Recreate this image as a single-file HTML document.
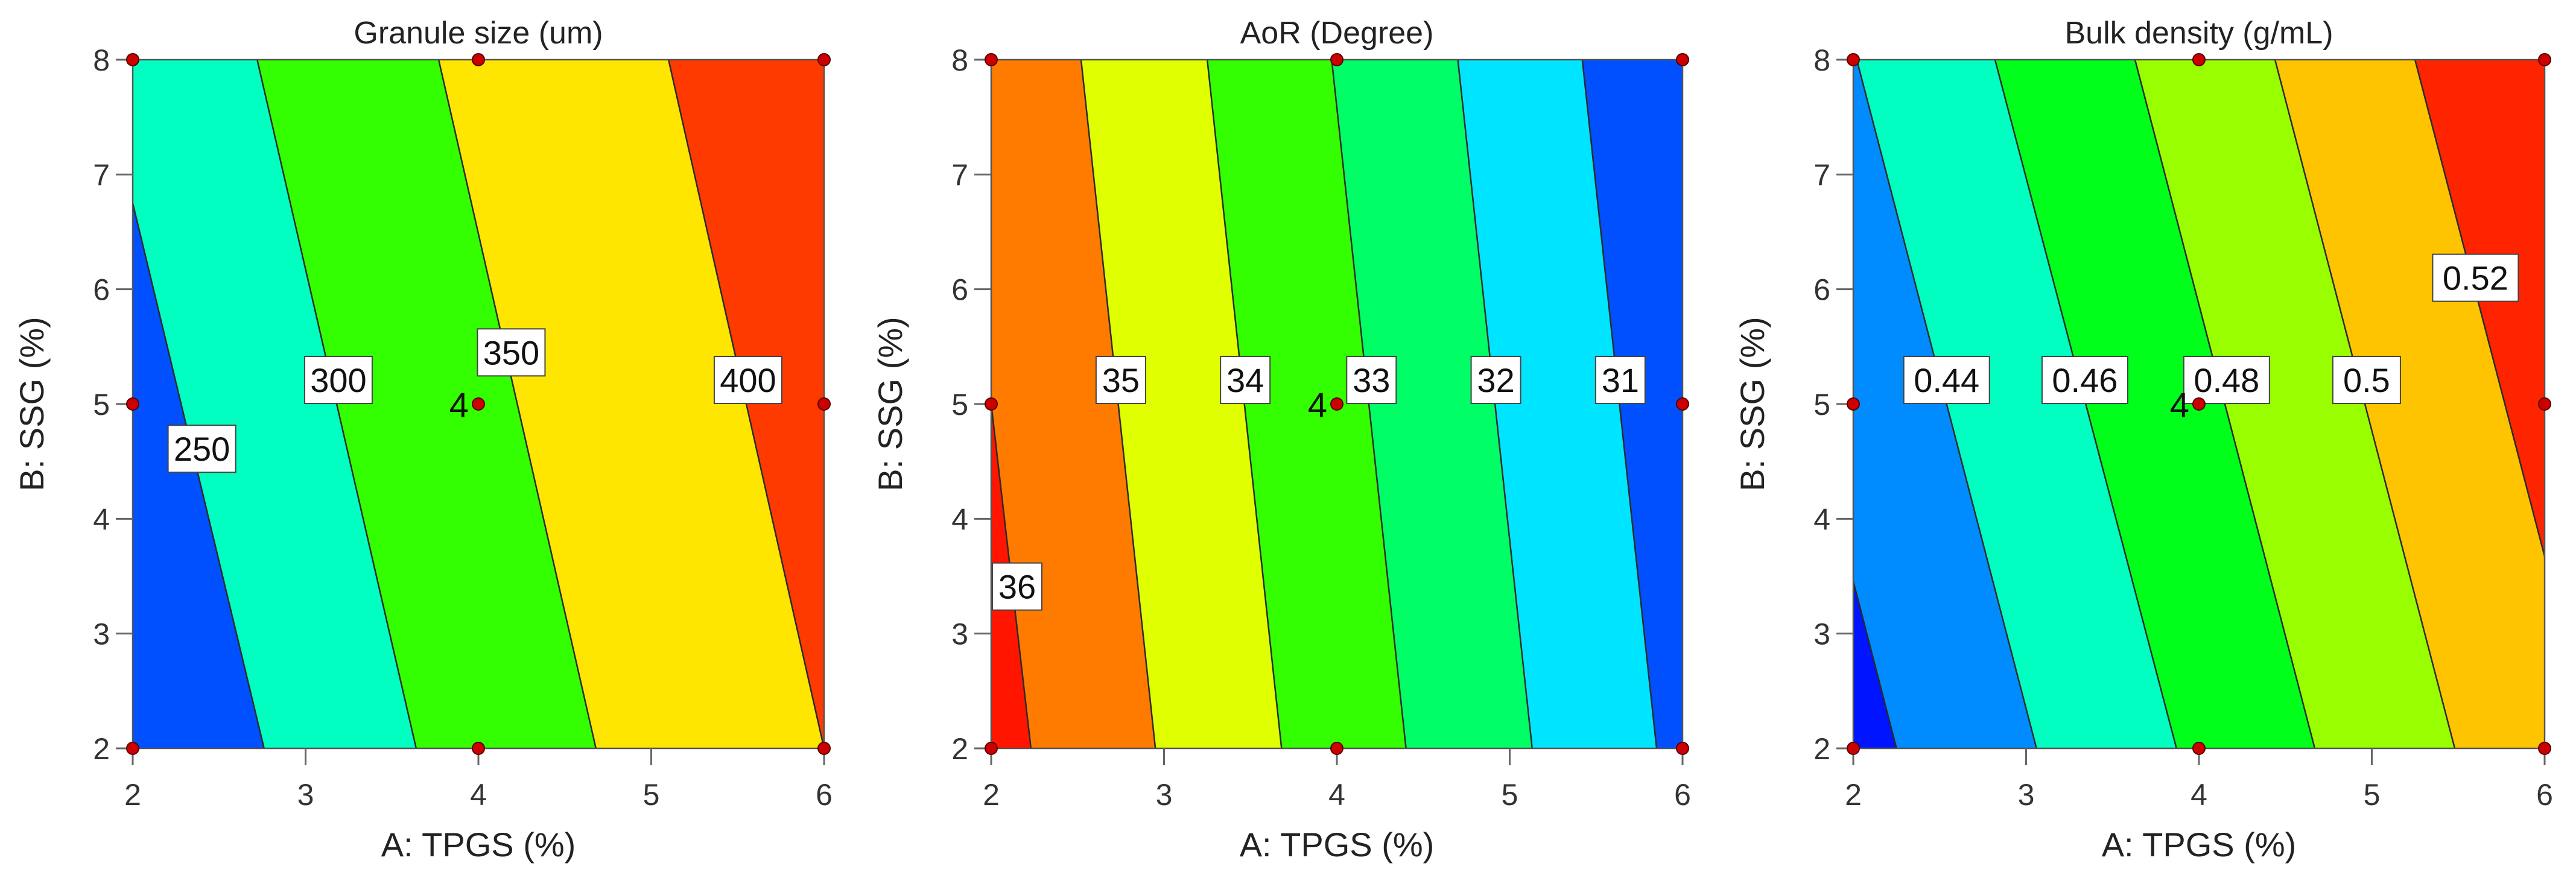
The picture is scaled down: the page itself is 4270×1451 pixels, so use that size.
<!DOCTYPE html>
<html><head><meta charset="utf-8"><style>
html,body{margin:0;padding:0;background:#fff;}
svg{display:block;font-family:"Liberation Sans","DejaVu Sans",sans-serif;}
</style></head><body>
<svg id="fig" xmlns="http://www.w3.org/2000/svg" width="4270" height="1451" viewBox="0 0 4270 1451"></svg>
<script>
// ---- data ----
const xTicks = [2, 3, 4, 5, 6];
const yTicks = [2, 3, 4, 5, 6, 7, 8];
const designX = [2, 2, 2, 4, 4, 4, 6, 6, 6];
const designY = [2, 5, 8, 2, 5, 8, 2, 5, 8];
const centerRuns = ["4", "4", "4"];

const p1Title = "Granule size (um)";
const p1Levels = ["250", "300", "350", "400"];
const p1TopX = [1.80, 2.72, 3.77, 5.10];
const p1BottomX = [2.76, 3.64, 4.68, 6.00];
const p1Colors = ["#0050ff", "#00ffc0", "#33ff00", "#ffe600", "#ff3a00"];
const p1LabelX = [2.40, 3.19, 4.19, 5.56];
const p1LabelY = [4.61, 5.21, 5.45, 5.21];

const p2Title = "AoR (Degree)";
const p2Levels = ["36", "35", "34", "33", "32", "31"];
const p2TopX = [1.77, 2.52, 3.25, 3.97, 4.70, 5.42];
const p2BottomX = [2.23, 2.95, 3.68, 4.40, 5.13, 5.85];
const p2Colors = ["#ff1500", "#ff7b00", "#e0ff00", "#33ff00", "#00ff66", "#00e5ff", "#0050ff"];
const p2LabelX = [2.15, 2.75, 3.47, 4.20, 4.92, 5.64];
const p2LabelY = [3.41, 5.21, 5.21, 5.21, 5.21, 5.21];

const p3Title = "Bulk density (g/mL)";
const p3Levels = ["0.42", "0.44", "0.46", "0.48", "0.5", "0.52"];
const p3TopX = [1.22, 2.02, 2.82, 3.63, 4.44, 5.25];
const p3BottomX = [2.25, 3.06, 3.87, 4.67, 5.48, 6.29];
const p3Colors = ["#0014ff", "#008cff", "#00ffc0", "#00ff1a", "#99ff00", "#ffc400", "#ff2400"];
const p3LabelX = [null, 2.54, 3.34, 4.16, 4.97, 5.60];
const p3LabelY = [null, 5.21, 5.21, 5.21, 5.21, 6.10];

const panelLefts = [220, 1643, 3072];
const PW = 1146, TOP = 99, BOT = 1241;
const NS = "http://www.w3.org/2000/svg";
const svg = document.getElementById('fig');

function mk(tag, attrs, parent) {
  const e = document.createElementNS(NS, tag);
  for (const k in attrs) e.setAttribute(k, attrs[k]);
  (parent || svg).appendChild(e);
  return e;
}

function drawPanel(idx, title, levels, topX, bottomX, colors, labX, labY) {
  const L = panelLefts[idx], R = L + PW;
  const sx = v => L + (v - 2) / 4 * PW;
  const sy = v => BOT - (v - 2) / 6 * (BOT - TOP);
  const g = mk('g', {});
  
  
  const clip = mk('clipPath', {id: 'clip' + idx}, g);
  mk('rect', {x: L, y: TOP, width: PW, height: BOT - TOP}, clip);
  const bands = mk('g', {'clip-path': 'url(#clip' + idx + ')'}, g);
  // bands
  const n = levels.length;
  for (let i = 0; i <= n; i++) {
    const lt = i === 0 ? -10 : sx(topX[i - 1]);
    const lb = i === 0 ? -10 : sx(bottomX[i - 1]);
    const rt = i === n ? 5000 : sx(topX[i]);
    const rb = i === n ? 5000 : sx(bottomX[i]);
    const pts = `${lt},${sy(8)} ${rt},${sy(8)} ${rb},${sy(2)} ${lb},${sy(2)}`;
    const p = mk('polygon', {points: pts, fill: colors[i]}, bands);
    
    
  }
  for (let i = 0; i < n; i++) {
    const ln = mk('line', {x1: sx(topX[i]), y1: sy(8), x2: sx(bottomX[i]), y2: sy(2), stroke: '#2a2a2a', 'stroke-width': 2.5}, bands);
    
    
  }
  const fr = mk('rect', {x: L, y: TOP, width: PW, height: BOT - TOP, fill: 'none', stroke: '#555', 'stroke-width': 2.5}, g);
  
  
  // ticks
  xTicks.forEach(t => {
    const x = sx(t);
    mk('line', {x1: x, y1: BOT, x2: x, y2: BOT + 28, stroke: '#666', 'stroke-width': 3}, g);
    const tx = mk('text', {x: x, y: 1335, 'font-size': 50, fill: '#333', 'text-anchor': 'middle'}, g);
    tx.textContent = t;
    
    
  });
  yTicks.forEach(t => {
    const y = sy(t);
    mk('line', {x1: L - 28, y1: y, x2: L, y2: y, stroke: '#666', 'stroke-width': 3}, g);
    const tx = mk('text', {x: L - 38, y: y + 18, 'font-size': 50, fill: '#333', 'text-anchor': 'end'}, g);
    tx.textContent = t;
    
    
  });
  // labels
  for (let i = 0; i < n; i++) {
    if (labX[i] === null) continue;
    const cx = sx(labX[i]), cy = sy(labY[i]);
    const w = levels[i].length * 30 + 22, h = 78;
    const lg = mk('g', {}, g);
    
    
    mk('rect', {x: cx - w / 2, y: cy - h / 2, width: w, height: h, fill: '#fff', stroke: '#444', 'stroke-width': 2}, lg);
    const t = mk('text', {x: cx, y: cy + 20, 'font-size': 56, fill: '#111', 'text-anchor': 'middle'}, lg);
    t.textContent = levels[i];
  }
  // design points
  for (let i = 0; i < designX.length; i++) {
    const c = mk('circle', {cx: sx(designX[i]), cy: sy(designY[i]), r: 10, fill: '#cc0000', stroke: '#5a0000', 'stroke-width': 2}, g);
    
    
  }
  const rl = mk('text', {x: sx(4) - 16, y: sy(5) + 22, 'font-size': 58, fill: '#111', 'text-anchor': 'end'}, g);
  rl.textContent = centerRuns[idx];
  
  
  // titles
  const tt = mk('text', {x: L + PW / 2, y: 72, 'font-size': 52, fill: '#222', 'text-anchor': 'middle'}, g);
  tt.textContent = title;
  
  
  const xt = mk('text', {x: L + PW / 2, y: 1420, 'font-size': 56, fill: '#222', 'text-anchor': 'middle'}, g);
  xt.textContent = 'A: TPGS (%)';
  
  
  const yx = L - 148, yy = (TOP + BOT) / 2;
  const yt = mk('text', {x: yx, y: yy, 'font-size': 56, fill: '#222', 'text-anchor': 'middle', transform: `rotate(-90 ${yx} ${yy})`}, g);
  yt.textContent = 'B: SSG (%)';
  
  
}

drawPanel(0, p1Title, p1Levels, p1TopX, p1BottomX, p1Colors, p1LabelX, p1LabelY);
drawPanel(1, p2Title, p2Levels, p2TopX, p2BottomX, p2Colors, p2LabelX, p2LabelY);
drawPanel(2, p3Title, p3Levels, p3TopX, p3BottomX, p3Colors, p3LabelX, p3LabelY);
</script>
</body></html>
